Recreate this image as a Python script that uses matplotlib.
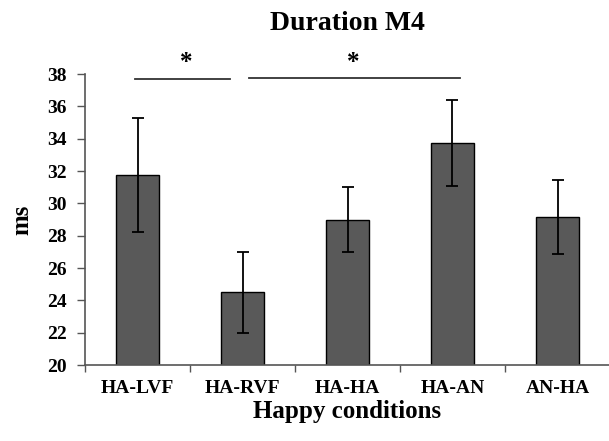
import numpy as np
import matplotlib.pyplot as plt

# valeurs
conditions = ["HA-LVF", "HA-RVF", "HA-HA", "HA-AN", "AN-HA"]
duree = [31.75, 24.5, 29.0, 33.75, 29.15]
erreur = [3.5, 2.5, 2.0, 2.65, 2.3]
yticks = [20, 22, 24, 26, 28, 30, 32, 34, 36, 38]

plt.rcParams['font.family'] = ['Liberation Serif', 'DejaVu Serif']
plt.rcParams['font.weight'] = 'bold'

fig = plt.figure(figsize=(6.09, 4.41), dpi=100)
ax = fig.add_axes([85/609, 1 - 365/441, 525/609, 291/441])

x = np.arange(len(conditions))
ax.bar(x, duree, width=0.41, color="#595959", edgecolor="black", linewidth=1.0,
       yerr=erreur, error_kw=dict(ecolor="black", elinewidth=1.3, capsize=4, capthick=1.3))

ax.set_xlim(-0.5, 4.5)
ax.set_ylim(20, 38)
ax.set_yticks(yticks)
ax.set_xticks(x)
ax.set_xticklabels(conditions, fontsize=14, fontweight='bold')
ax.set_xticks(np.arange(-0.5, 4.6, 1), minor=True)
ax.tick_params(axis='x', which='major', length=0, pad=11)
ax.tick_params(axis='x', which='minor', length=5, width=1, color="#555555")
ax.tick_params(axis='y', length=6, width=1, color="#555555", labelsize=14, pad=7)
for lab in ax.get_yticklabels():
    lab.set_fontweight('bold')

for s in ['top', 'right']:
    ax.spines[s].set_visible(False)
for s in ['left', 'bottom']:
    ax.spines[s].set_color("#555555")
    ax.spines[s].set_linewidth(1.2)

ax.set_ylabel("ms", fontsize=18, fontweight='bold', labelpad=10)
ax.set_xlabel("Happy conditions", fontsize=18, fontweight='bold', labelpad=2)
ax.set_title("Duration M4", fontsize=20, fontweight='bold', pad=32)

# barres de significativite
ax.plot([-0.02, 0.88], [37.7, 37.7], color="#333333", lw=1.3, clip_on=False)
ax.plot([1.06, 3.07], [37.75, 37.75], color="#333333", lw=1.3, clip_on=False)
ax.text(0.46, 38.0, "*", ha='center', va='bottom', fontsize=18, fontweight='bold', clip_on=False)
ax.text(2.05, 38.0, "*", ha='center', va='bottom', fontsize=18, fontweight='bold', clip_on=False)

fig.savefig("out.png", dpi=100)
